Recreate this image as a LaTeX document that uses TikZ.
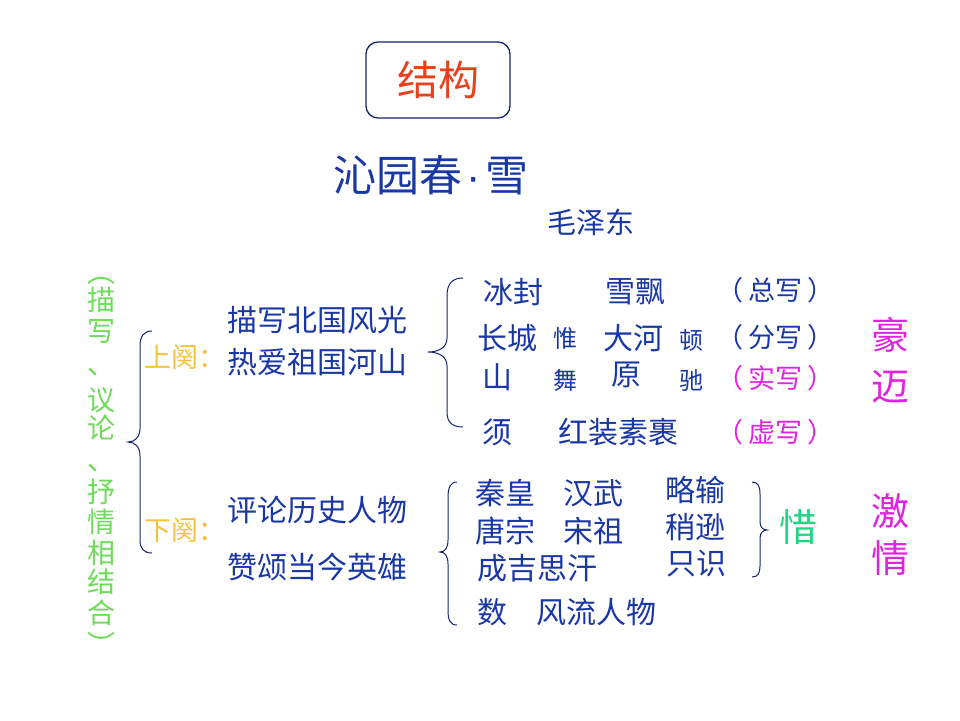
\documentclass[tikz,border=0pt]{standalone}
\usepackage{fontspec}
\setmainfont{Noto Sans CJK SC}
\newfontfamily\latinf{Liberation Sans}
\definecolor{dblue}{RGB}{25,55,165}
\definecolor{navy}{RGB}{20,35,110}
\definecolor{redor}{RGB}{232,64,28}
\definecolor{gold}{RGB}{245,194,60}
\definecolor{lgreen}{RGB}{110,220,90}
\definecolor{mint}{RGB}{30,215,130}
\definecolor{mag}{RGB}{225,35,225}
\tikzset{
  txt/.style={inner sep=0pt, text=dblue, font=\fontsize{30}{30}\selectfont},
  small/.style={txt, font=\fontsize{24}{24}\selectfont},
  paren/.style={txt, font=\fontsize{27}{27}\selectfont},
  brace/.style={draw=navy, line width=1pt},
  vert/.style={inner sep=0pt, text=lgreen, font=\fontsize{28}{28}\selectfont},
}
\newcommand\pw[1]{（\kern5pt #1\kern5pt ）}
\begin{document}
\begin{tikzpicture}[x=1pt,y=-1pt]
\useasboundingbox (0,0) rectangle (960,720);
% title box
\node[draw=navy, line width=1.3pt, rounded corners=12pt, minimum width=144pt, minimum height=76pt, text=redor, font=\fontsize{41}{41}\selectfont] (title) at (438,80) {结构};
\node[txt, font=\fontsize{43}{43}\selectfont] (poem) at (431,175) {沁园春{\latinf\kern4pt·\kern4pt}雪};
\node[txt, font=\fontsize{29}{29}\selectfont] (author) at (591,222) {毛泽东};
% left vertical green text
\node[vert] (g0) at (101,281) {︵};
\node[vert] (g1) at (101,300) {描};
\node[vert] (g2) at (101,331) {写};
\node[vert] (g3) at (101,372) {、};
\node[vert] (g4) at (101,400) {议};
\node[vert] (g5) at (101,428) {论};
\node[vert] (g6) at (101,468) {、};
\node[vert] (g7) at (101,492) {抒};
\node[vert] (g8) at (101,522) {情};
\node[vert] (g9) at (101,553) {相};
\node[vert] (g10) at (101,582) {结};
\node[vert] (g11) at (101,613) {合};
\node[vert] (g12) at (101,644) {︶};
% left brace
\draw[brace] (152,331) .. controls (144,331) and (140,336) .. (140,346) -- (140,428)
  .. controls (140,437) and (135,442) .. (128,442)
  .. controls (135,442) and (140,447) .. (140,456) -- (140,540)
  .. controls (140,549) and (144,553) .. (152,553);
\node[txt, text=gold, font=\fontsize{27}{27}\selectfont, anchor=west] (sq) at (144,357) {上阕：};
\node[txt, text=gold, font=\fontsize{27}{27}\selectfont, anchor=west] (xq) at (144,530) {下阕：};
\node[txt, anchor=west] (a1) at (227,320) {描写北国风光};
\node[txt, anchor=west] (a2) at (227,362) {热爱祖国河山};
\node[txt, anchor=west] (b1) at (227,510) {评论历史人物};
\node[txt, anchor=west] (b2) at (227,567) {赞颂当今英雄};
% upper right brace
\draw[brace] (463,278) .. controls (452,278) and (447,284) .. (447,296) -- (447,338)
  .. controls (447,348) and (438,352) .. (428,352)
  .. controls (438,352) and (447,356) .. (447,366) -- (447,412)
  .. controls (447,422) and (452,427) .. (463,427);
\node[txt] (r11) at (513,292) {冰封};
\node[txt] (r12) at (635,292) {雪飘};
\node[paren] (r13) at (775,290) {\pw{总写}};
\node[txt] (r21) at (507,338) {长城};
\node[small] (r22) at (565,338) {惟};
\node[txt] (r23) at (633,338) {大河};
\node[small] (r24) at (691,340) {顿};
\node[paren] (r25) at (775,337) {\pw{分写}};
\node[txt] (r31) at (497,377) {山};
\node[small] (r32) at (565,380) {舞};
\node[txt] (r33) at (626,375) {原};
\node[small] (r34) at (691,380) {驰};
\node[paren, text=mag] (r35) at (775,378) {\pw{实写}};
\node[txt] (r41) at (497,432) {须};
\node[txt] (r42) at (618,432) {红装素裹};
\node[paren, text=mag] (r43) at (775,432) {\pw{虚写}};
% lower left brace
\draw[brace] (457,482) .. controls (450,482) and (448,488) .. (448,498) -- (448,540)
  .. controls (448,548) and (445,552) .. (440,552)
  .. controls (445,552) and (448,556) .. (448,564) -- (448,610)
  .. controls (448,620) and (450,625) .. (457,625);
\node[txt] (s11) at (505,493) {秦皇};
\node[txt] (s12) at (593,493) {汉武};
\node[txt] (s13) at (695,490) {略输};
\node[txt] (s21) at (505,531) {唐宗};
\node[txt] (s22) at (593,531) {宋祖};
\node[txt] (s23) at (695,527) {稍逊};
\node[txt] (s31) at (537,568) {成吉思汗};
\node[txt] (s32) at (696,564) {只识};
\node[txt] (s41) at (492,612) {数};
\node[txt] (s42) at (596,612) {风流人物};
% right brace
\draw[brace] (752,482) .. controls (758,482) and (760,486) .. (760,494) -- (760,522)
  .. controls (760,527) and (763,530) .. (767,530)
  .. controls (763,530) and (760,533) .. (760,538) -- (760,566)
  .. controls (760,573) and (758,577) .. (752,577);
\node[txt, text=mint, font=\fontsize{38}{38}\selectfont] (xi) at (798,527) {惜};
\node[txt, text=mag, font=\fontsize{38}{38}\selectfont] (h1) at (890,335) {豪};
\node[txt, text=mag, font=\fontsize{38}{38}\selectfont] (h2) at (890,387) {迈};
\node[txt, text=mag, font=\fontsize{38}{38}\selectfont] (j1) at (890,511) {激};
\node[txt, text=mag, font=\fontsize{38}{38}\selectfont] (j2) at (890,558) {情};
\end{tikzpicture}
\end{document}
